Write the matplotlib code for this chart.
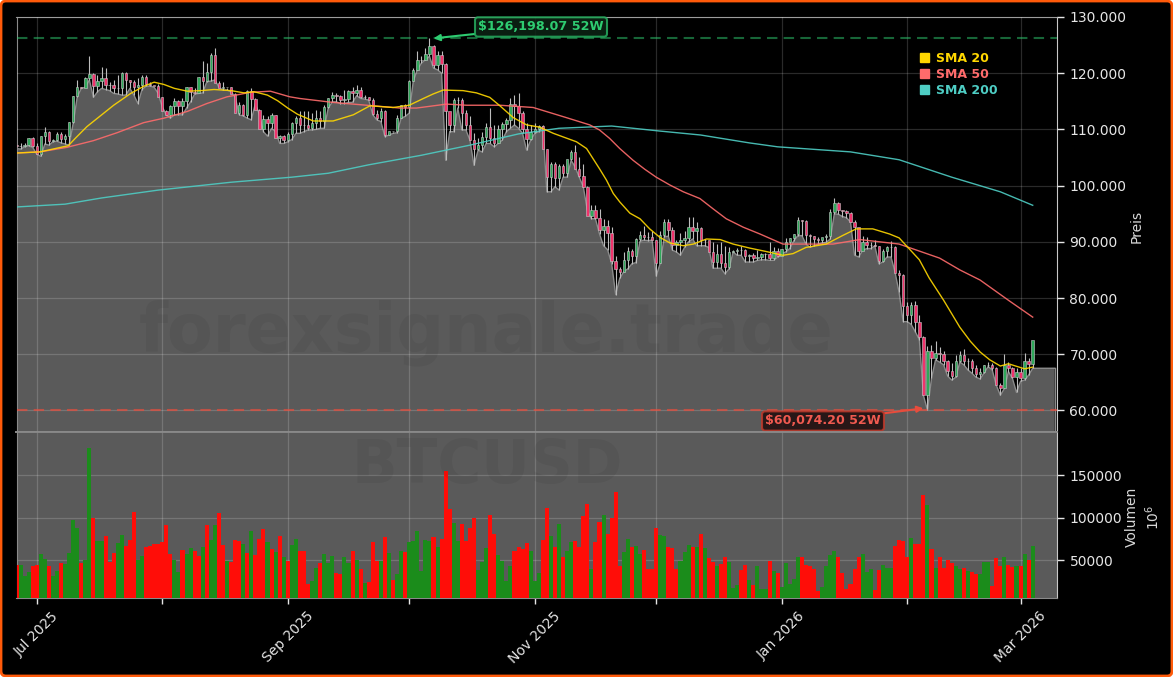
import numpy as np
import pandas as pd
import matplotlib
matplotlib.use("Agg")
import matplotlib.pyplot as plt
import matplotlib.dates as mdates
from matplotlib.patches import FancyBboxPatch, Patch
from matplotlib.ticker import FuncFormatter, FixedLocator

plt.rcParams['font.family'] = ['DejaVu Sans']

start_date = "2025-06-26"
# daily values, USD thousands
close_k = [107.1,107.1,107.3,108.4,107.1,105.7,108.8,109.6,108.0,108.2,
 109.2,108.3,108.9,111.3,116.0,117.5,117.4,119.1,119.8,117.7,
 118.7,119.2,117.9,117.9,117.3,117.4,120.0,118.8,118.4,117.6,
 117.9,119.4,118.0,117.9,117.8,115.8,113.3,112.5,114.2,115.1,
 114.1,115.0,117.5,116.7,116.5,119.3,118.7,120.2,123.3,118.3,
 117.4,117.5,117.5,116.3,112.9,114.3,112.5,116.9,115.4,113.5,
 110.1,111.8,111.2,112.6,108.4,108.8,108.2,109.2,111.2,112.1,
 110.7,110.7,110.2,111.2,112.1,111.5,113.9,115.5,116.1,115.9,
 115.3,115.4,116.8,116.5,117.1,115.7,115.7,115.3,112.7,112.0,
 113.3,109.0,109.7,109.7,112.1,114.4,114.0,118.6,120.6,122.3,
 122.4,123.5,124.8,121.4,123.3,121.7,113.2,110.8,115.2,115.3,
 113.0,110.8,108.2,106.5,107.2,108.6,110.5,108.4,107.6,110.0,
 111.0,111.6,114.5,114.1,112.9,110.0,108.3,109.6,110.1,110.6,
 106.5,101.6,103.9,101.3,103.4,102.3,104.7,105.9,103.0,101.7,
 99.7,94.6,95.6,94.2,92.1,92.9,91.5,86.6,85.1,84.7,
 86.8,88.3,87.4,90.5,91.3,90.9,90.8,90.4,86.3,91.3,
 93.5,92.1,89.4,89.9,90.4,90.6,92.7,92.0,92.5,90.3,
 90.3,88.2,86.4,87.8,86.2,85.5,88.1,88.3,88.6,88.5,
 87.4,87.6,87.2,87.3,87.8,87.8,87.1,88.4,87.5,88.7,
 89.9,90.6,91.4,93.9,93.7,91.3,91.0,90.5,90.4,90.8,
 91.1,95.3,96.9,95.6,95.5,95.1,93.6,92.6,88.3,90.0,
 89.5,89.5,89.2,86.6,88.3,89.1,89.1,84.5,84.1,78.6,
 76.9,78.7,75.8,73.0,62.7,70.5,69.3,70.3,70.1,68.8,
 67.0,66.2,68.8,69.8,68.8,68.8,67.5,66.4,66.9,68.0,
 68.0,67.6,64.6,64.0,68.0,67.5,65.9,66.9,65.7,68.8,
 68.2,72.5]
first_open_k = 107.3
high_k = [107.4,107.6,107.5,108.4,108.7,107.5,108.8,110.5,109.7,108.3,
 109.6,109.6,109.1,111.3,116.0,118.8,117.6,119.3,123.0,120.0,
 119.7,121.1,120.9,118.5,118.8,119.7,120.3,120.3,118.8,118.8,
 119.1,119.7,119.7,118.5,117.6,118.0,115.8,113.5,114.3,115.5,
 115.2,115.5,117.5,117.6,117.3,119.3,122.2,121.8,123.6,124.5,
 118.6,118.5,117.3,117.5,116.4,114.9,114.6,117.1,117.3,115.5,
 113.6,112.6,112.3,112.9,112.6,109.0,109.0,109.6,111.4,112.3,
 113.2,113.2,113.2,112.9,113.5,113.2,114.3,115.5,116.7,116.4,
 116.1,117.0,117.0,117.6,117.9,117.6,116.1,115.8,115.5,113.5,
 113.8,113.5,109.6,109.6,112.6,114.3,114.6,118.8,120.9,123.9,
 123.0,124.5,126.2,125.1,123.9,123.9,121.8,111.1,115.5,115.8,
 115.5,113.5,112.3,109.3,108.4,109.6,111.1,113.8,110.8,110.8,
 111.4,112.0,115.5,116.1,116.4,113.2,111.1,110.8,111.1,110.8,
 110.8,106.6,104.2,104.2,103.9,103.9,104.5,106.3,107.2,105.1,
 103.9,99.9,96.5,96.5,95.9,94.1,93.9,92.6,87.5,85.6,
 88.2,89.0,88.8,90.6,91.9,92.9,91.7,91.9,90.4,92.0,
 94.0,94.0,92.7,90.3,91.5,92.0,94.5,94.4,93.5,92.6,
 90.5,90.2,89.9,89.6,89.9,89.3,89.0,88.5,88.9,89.3,
 88.8,87.9,88.0,88.5,88.0,88.0,89.9,89.0,88.9,88.8,
 90.7,90.7,91.4,94.5,93.9,93.9,91.4,91.1,90.8,90.7,
 91.4,95.9,97.8,97.1,95.6,95.6,95.3,93.8,90.5,91.0,
 90.8,90.0,90.3,89.3,88.8,89.3,90.2,89.3,84.9,84.2,
 79.3,79.3,79.4,76.9,73.3,71.5,71.7,72.3,71.3,70.5,
 69.0,68.5,69.9,70.5,71.0,69.3,69.2,68.1,67.5,68.1,
 68.7,68.4,67.8,64.8,70.0,68.7,67.8,67.5,67.5,70.2,
 69.3,72.4]
low_k = [106.6,106.5,106.9,107.1,106.8,105.6,105.2,107.4,107.2,107.8,
 107.9,107.6,107.4,107.2,111.1,115.8,117.3,117.5,118.8,115.7,
 116.7,117.3,117.1,116.9,116.4,116.3,116.1,116.1,117.3,116.1,
 114.6,117.1,117.7,117.7,117.5,116.4,114.0,112.6,112.0,112.6,
 112.6,112.6,113.8,114.9,116.3,116.4,116.5,118.5,118.6,118.8,
 117.5,117.0,117.0,116.7,115.8,112.6,112.4,112.0,111.7,114.6,
 112.6,109.6,108.8,110.2,109.6,107.5,107.5,107.8,108.2,109.3,
 109.3,109.6,109.9,109.9,110.0,110.2,110.2,113.8,114.9,114.9,
 114.6,114.6,114.8,114.8,116.0,115.5,115.4,115.2,112.6,111.7,
 111.4,108.7,109.0,109.3,109.4,112.0,112.3,112.9,118.6,120.6,
 121.8,122.4,123.0,120.9,120.6,120.0,104.5,109.6,109.6,113.8,
 109.9,109.9,108.1,103.6,106.3,106.0,107.5,107.5,106.9,107.5,
 108.1,109.6,110.2,110.8,110.2,109.3,106.3,108.1,109.3,109.6,
 110.5,98.9,98.9,99.8,99.2,101.5,101.5,104.5,103.3,101.5,
 99.8,95.6,94.1,94.1,91.4,89.3,88.6,86.1,80.6,83.5,
 84.7,85.2,86.1,86.3,90.1,90.3,90.2,90.3,83.9,86.2,
 90.9,91.0,88.5,88.2,87.6,89.0,90.0,90.5,89.3,89.3,
 89.3,89.0,85.3,85.3,85.3,84.3,85.2,88.2,87.6,87.6,
 86.4,86.4,86.4,86.7,86.8,86.8,86.7,86.7,87.3,87.9,
 88.2,88.8,90.2,91.1,91.1,89.6,89.0,89.3,89.6,89.8,
 89.9,90.5,95.0,94.9,94.5,94.3,93.5,87.6,87.3,88.5,
 88.8,88.8,89.3,86.1,86.4,87.3,87.3,84.6,81.0,75.8,
 75.8,75.3,74.0,72.6,62.7,60.07,65.7,69.0,68.6,68.1,
 66.1,65.4,65.9,68.6,68.1,67.2,66.6,65.9,65.6,66.7,
 67.8,67.2,64.5,62.7,63.9,66.9,65.7,63.2,65.2,65.4,
 66.3,67.5]
volume_k = [44.5,44.5,31.5,35.4,43.3,44.5,57.1,51.2,43.3,31.5,
 37.4,46.5,45.3,58.3,96.5,87.8,46.5,50,182.3,99.2,
 72.8,72.8,78.7,48,58.3,70,79.9,66.9,74,105.9,
 50,55.1,65,66.9,68.9,68.9,70.9,91.7,57.1,50,
 35.4,62.2,57.1,63.8,61,55.1,65.7,91.7,73.6,91.7,
 105.1,68.1,49.2,47.2,73.6,72.8,68.9,58.7,83.9,56.3,
 75.2,87,70.9,63,59.8,78.7,53.1,49.2,68.1,75.2,
 61,61,21.7,25.6,40.6,46.5,57,47,55,34.6,
 33.5,53,47,61,50,39.4,22.8,23.6,71.7,48.4,
 49,76.8,58.3,26.8,33.5,61,59.8,71.7,72.8,84.6,
 37.4,73.6,72.8,77.6,65.7,74.8,154.3,110,93.7,72.8,
 92.5,72.8,87.8,99.6,38.2,47.2,64.2,102.4,80.7,56.3,
 49.2,25.6,42.5,61,65,63,70,61,25.6,34.6,
 73.6,111.4,78.7,65,92.5,53,61,70.9,72,65.7,
 101.6,115.4,39.4,71.7,95.3,102.4,80.7,99.2,130,42.5,
 59,74.8,65.7,66.9,57,61.8,39.4,39.4,87.8,79.5,
 78.7,65.7,64.2,39.4,48.4,59,67.7,65.7,65.7,80.7,
 64.2,52,47.2,42.5,45.3,53.9,47.2,16.5,20.9,38.6,
 44.5,26.4,20.9,43.3,15.7,15.7,49.2,36.6,34.6,17.7,
 46,21.7,27.6,53.9,53.1,44.5,43.3,39.4,13.8,17.7,
 42.5,55.9,61,53.9,34.3,15.7,21.7,39.4,53.9,57,
 35.4,39.4,14.6,38.7,44.5,40.6,40.6,66,73,72,
 54,76,69,69,126,115,63,41,53,41,
 50,46,43,39,41,37,36,34,34,48,
 48,19,52,43,54,44,42,43,43,57,
 50,66]
volume_side = ("rgggrrggrg" "grggggrggr" "ggrrrggrrr" "ggrrrrrrrg" "grggrrgrgg"
               "rrgrrrgrgr" "rrgrgrgrgg" "rrrggrgggr" "rggrgrgrrr" "grgrggrggg"
               "gggrgrrrgg" "rrrrgggrrg" "gggrrrrggg" "rrgrgrggrr" "rrgrrgrrrr"
               "ggrggrrrrg" "grrrgggrgr" "grrgrrgggr" "rgrgggrgrg" "ggggrrrrrg"
               "gggrrrrrrg" "ggrrgggrrr" "rgrrrgrgrr" "rrggrgrrgg" "grrrgrrgrg" "rg")

sma20_day = [0,5.8,12.8,14.5,17.4,20.7,24,28.2,31.5,34,36.4,39,42.2,45.5,48.8,53,56.2,58.7,62,64.5,67,69.4,
             73.3,78.2,83.2,87.3,93,97,100.5,102.9,105.4,110.3,113.6,116.9,119.4,122.7,126,129.2,132.6,138.3,140.8,
             144,145.7,147.4,149,151.5,154,156.4,158.9,161.4,164.7,167.2,170.4,173.8,177,181,185,189.3,191.8,195,
             200,204,207.4,211.5,215.6,218,223,225.4,229,233,235.6,238,240.4,243,245,249,251]
sma20_k = [105.8,106.0,107.1,108.4,110.5,112.4,114.3,116.4,117.7,118.4,118.0,117.3,116.8,116.9,117.1,116.9,116.5,
           116.7,116.1,115.1,113.8,112.7,111.5,111.5,112.6,114.2,113.9,114.3,115.5,116.3,117.0,116.9,116.5,115.7,
           114.2,112.1,110.8,110.4,109.3,107.8,106.6,103.0,101.0,98.6,97.1,95.1,94.1,92.3,90.8,89.8,89.3,89.6,90.5,
           90.4,89.6,88.9,88.3,87.6,87.9,89.0,89.6,91.1,92.3,92.3,91.4,90.7,86.8,83.6,79.6,74.8,72.3,70.4,69.0,67.9,
           68.3,67.4,67.7]
sma50_day = [0,5.8,12.4,19,24.8,31.4,36.4,42.2,47,52,57.8,62.7,67.5,70,78.2,86.5,94.7,98.8,106.2,111.2,119.4,127.6,
             135.8,141.6,144,146.5,149,152.3,155.2,158,161.4,164.7,168.8,172,175.3,179.5,183.6,189.3,201.7,208.3,218,
             228,233,238,245,251]
sma50_k = [105.8,106.0,106.8,108.0,109.4,111.2,112.0,113.2,114.6,115.8,116.6,116.8,115.8,115.5,114.8,114.3,113.8,
           113.8,114.5,114.3,114.3,113.9,112.1,110.8,109.9,108.4,106.6,104.5,102.9,101.5,100.1,98.9,97.7,95.9,94.1,
           92.6,91.4,89.6,89.6,90.4,89.6,87.1,85.0,83.2,79.6,76.6]
sma200_day = [0,12,21,35,53,68,77,87,100,112,124,134,147,159,169,181,188,206,218,231,243,251]
sma200_k = [96.2,96.7,97.8,99.2,100.6,101.5,102.2,103.7,105.4,107.2,109.2,110.2,110.6,109.7,109.0,107.6,
            106.9,106.0,104.6,101.5,98.9,96.5]
year_high = 126198.07
year_low = 60074.20
watermark_top = "forexsignale.trade"
watermark_bottom = "BTCUSD"

close = np.array(close_k) * 1000
open_ = np.r_[first_open_k, close_k[:-1]] * 1000
high = np.array(high_k) * 1000
low = np.array(low_k) * 1000
volume = np.array(volume_k)
dates = pd.date_range(start_date, periods=len(close), freq="D")
x = mdates.date2num(dates)
W, H = 1173, 677

fig = plt.figure(figsize=(W / 100, H / 100), dpi=100, facecolor="white")
fig.add_artist(FancyBboxPatch((1.0, 1.0), W - 2, H - 2, boxstyle="round,pad=0,rounding_size=5",
                              transform=None, fc="black", ec="#ff5a0a", lw=2, zorder=-5))
L, R, T, M, B = 16.5, 1057, 17, 432, 598
ax = fig.add_axes([L / W, 1 - M / H, (R - L) / W, (M - T) / H], facecolor="black")
av = fig.add_axes([L / W, 1 - B / H, (R - L) / W, (B - M) / H], facecolor="#5a5a5a", sharex=ax)

# price
GREY = "#5a5a5a"
xf = np.r_[x, x[-1] + 5.4]
lf = np.r_[low, low[-1]]
ax.fill_between(xf, lf, 0, color=GREY, lw=0, zorder=1)
ax.plot(xf, lf, color="#8c8c8c", lw=1, zorder=1.5)
ax.plot([xf[-1], xf[-1]], [0, lf[-1]], color="#8c8c8c", lw=1, zorder=1.5)
ax.set_axisbelow(False)
ax.vlines(x, low, high, color="#bdbdbd", lw=0.8, zorder=3)
up = close >= open_
for mask, col in ((up, "#2fa85a"), (~up, "#f0336c")):
    ax.bar(x[mask], (close - open_)[mask], bottom=open_[mask], width=0.6, color=col,
           edgecolor="#c8c8c8", lw=0.4, zorder=4)
base = x[0]
ax.plot(base + np.array(sma200_day), np.array(sma200_k) * 1000, color="#4ECDC4", lw=1, alpha=.9, zorder=5)
ax.plot(base + np.array(sma50_day), np.array(sma50_k) * 1000, color="#FF6B6B", lw=1, alpha=.9, zorder=5)
ax.plot(base + np.array(sma20_day), np.array(sma20_k) * 1000, color="#FFD700", lw=1, alpha=.9, zorder=6)
ax.axhline(year_high, color="#2ecc71", ls=(0, (5, 3)), lw=1.5, alpha=.5, zorder=5)
ax.axhline(year_low, color="#e74c3c", ls=(0, (5, 3)), lw=1.5, alpha=.7, zorder=5)

ax.set_xlim(x[0], x[0] + 257)
ax.set_ylim(56160, 130000)
ax.yaxis.set_major_locator(FixedLocator(np.arange(60000, 130001, 10000)))
ax.yaxis.set_major_formatter(FuncFormatter(lambda v, p: f"{v:,.0f}".replace(",", ".")))

ax.annotate(f"\\${year_high:,.2f} 52W", xy=(x[103], year_high), xytext=(541, H - 27), textcoords="figure pixels",
            ha="center", va="center", color="#2ecc71", fontsize=9.2, fontweight="bold", zorder=8,
            bbox=dict(boxstyle="round,pad=0.25", fc="#0c2415", ec="#27ae60", lw=1.5, alpha=.85),
            arrowprops=dict(arrowstyle="-|>", color="#2ecc71", lw=1.5, shrinkA=0, shrinkB=0))
ax.annotate(f"\\${year_low:,.2f} 52W", xy=(x[224], year_low + 300), xytext=(823, H - 421), textcoords="figure pixels",
            ha="center", va="center", color="#f05a50", fontsize=9.1, fontweight="bold", zorder=8,
            bbox=dict(boxstyle="round,pad=0.25", fc="#200c0c", ec="#c0392b", lw=1.5, alpha=.85),
            arrowprops=dict(arrowstyle="-|>", color="#e74c3c", lw=1.5, shrinkA=0, shrinkB=0))

leg = ax.legend(handles=[Patch(color="#FFD700", label="SMA 20"), Patch(color="#FF6B6B", label="SMA 50"),
                         Patch(color="#4ECDC4", label="SMA 200")],
                loc="upper left", bbox_to_anchor=((916 - L) / (R - L), 1 - (48 - T) / (M - T)), frameon=False,
                prop=dict(size=9, weight="bold"), handlelength=0.75, handleheight=0.75, handletextpad=0.55,
                labelspacing=0.25, labelcolor=["#FFD700", "#FF6B6B", "#4ECDC4"], borderaxespad=0, borderpad=0.3)
leg.set_zorder(9)

# volume
vcols = ["#ff0d08" if s == "r" else "#1b8c1b" for s in volume_side]
av.bar(x, volume * 1000, width=1.0, color=vcols, lw=0, zorder=3)
av.set_axisbelow(True)
av.set_ylim(5300, 200600)
av.yaxis.set_major_locator(FixedLocator([50000, 100000, 150000]))
av.yaxis.set_major_formatter(FuncFormatter(lambda v, p: f"{v:.0f}"))

for a in (ax, av):
    a.xaxis.set_major_locator(mdates.MonthLocator(bymonth=[1, 3, 5, 7, 9, 11]))
    a.xaxis.set_minor_locator(mdates.MonthLocator())
    a.xaxis.set_major_formatter(mdates.DateFormatter("%b %Y"))
    a.yaxis.tick_right()
    a.yaxis.set_label_position("right")
    a.grid(True, which="both", axis="x", color="white", alpha=.17, lw=0.9)
    a.grid(True, which="major", axis="y", color="white", alpha=.17, lw=0.9)
    a.tick_params(axis="y", colors="#e6e6e6", labelsize=10, length=5, width=1, pad=4)
    a.tick_params(axis="x", which="both", colors="#e6e6e6", length=4.5, width=1)
    for s in ("left", "top", "bottom"):
        a.spines[s].set_color("#8a8a8a")
    a.spines["right"].set_color("#c8c8c8")
ax.spines["bottom"].set_linewidth(1.3)
av.spines["top"].set_linewidth(1.3)
ax.tick_params(axis="x", which="both", bottom=False, labelbottom=False)
plt.setp(av.get_xticklabels(), rotation=45, ha="center", fontsize=10, color="#e6e6e6")
ax.set_ylabel("Preis", color="#d8d8d8", fontsize=10)
ax.yaxis.set_label_coords((1130 - L) / (R - L), (M - 226) / (M - T))
av.set_ylabel("Volumen\n$10^{6}$", color="#d8d8d8", fontsize=10, linespacing=1.3)
av.yaxis.set_label_coords((1125 - L) / (R - L), (B - 517) / (B - M))

# watermark
fig.text(486 / W, 1 - 333 / H, watermark_top, fontsize=48, fontweight="bold", color="black", alpha=.055,
         ha="center", va="center", zorder=20)
fig.text(487 / W, 1 - 466 / H, watermark_bottom, fontsize=43, fontweight="bold", color="black", alpha=.055,
         ha="center", va="center", zorder=20)

fig.savefig("out.png", dpi=100, facecolor=fig.get_facecolor())
